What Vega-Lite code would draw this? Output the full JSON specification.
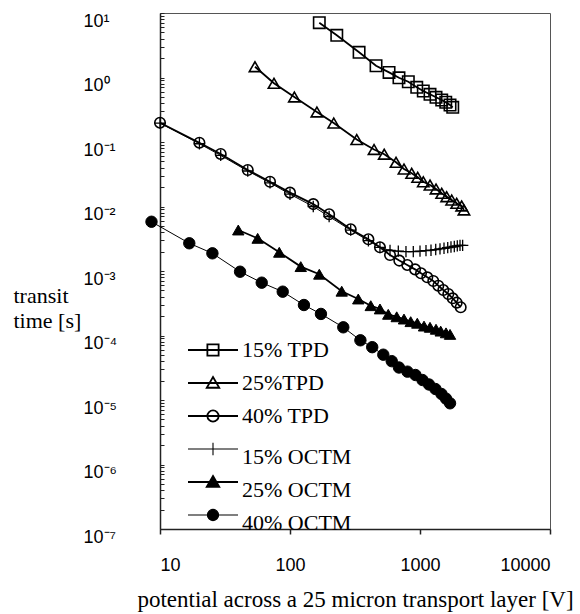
{
  "$schema": "https://vega.github.io/schema/vega-lite/v6.json",
  "width": 390,
  "height": 516,
  "autosize": "none",
  "padding": {"left": 160, "top": 13, "right": 30, "bottom": 85},
  "background": "white",
  "config": {
    "view": {"stroke": "#555", "strokeWidth": 1},
    "font": "Liberation Sans"
  },
  "data": {
    "values": [
      {"series": "15% TPD", "x": 168, "y": 7.08},
      {"series": "15% TPD", "x": 229, "y": 4.51},
      {"series": "15% TPD", "x": 340, "y": 2.46},
      {"series": "15% TPD", "x": 459, "y": 1.52},
      {"series": "15% TPD", "x": 578, "y": 1.2},
      {"series": "15% TPD", "x": 689, "y": 0.99},
      {"series": "15% TPD", "x": 813, "y": 0.86},
      {"series": "15% TPD", "x": 944, "y": 0.705},
      {"series": "15% TPD", "x": 1060, "y": 0.618},
      {"series": "15% TPD", "x": 1194, "y": 0.549},
      {"series": "15% TPD", "x": 1328, "y": 0.493},
      {"series": "15% TPD", "x": 1469, "y": 0.448},
      {"series": "15% TPD", "x": 1578, "y": 0.413},
      {"series": "15% TPD", "x": 1702, "y": 0.375},
      {"series": "15% TPD", "x": 1786, "y": 0.345},

      {"series": "25%TPD", "x": 53.8, "y": 1.47},
      {"series": "25%TPD", "x": 75.3, "y": 0.813},
      {"series": "25%TPD", "x": 108, "y": 0.499},
      {"series": "25%TPD", "x": 161, "y": 0.292},
      {"series": "25%TPD", "x": 217, "y": 0.197},
      {"series": "25%TPD", "x": 326, "y": 0.109},
      {"series": "25%TPD", "x": 443, "y": 0.0766},
      {"series": "25%TPD", "x": 531, "y": 0.0647},
      {"series": "25%TPD", "x": 654, "y": 0.0484},
      {"series": "25%TPD", "x": 753, "y": 0.0381},
      {"series": "25%TPD", "x": 863, "y": 0.0327},
      {"series": "25%TPD", "x": 960, "y": 0.0284},
      {"series": "25%TPD", "x": 1060, "y": 0.0242},
      {"series": "25%TPD", "x": 1194, "y": 0.0215},
      {"series": "25%TPD", "x": 1328, "y": 0.0187},
      {"series": "25%TPD", "x": 1469, "y": 0.016},
      {"series": "25%TPD", "x": 1604, "y": 0.0142},
      {"series": "25%TPD", "x": 1753, "y": 0.0126},
      {"series": "25%TPD", "x": 1915, "y": 0.0112},
      {"series": "25%TPD", "x": 2093, "y": 0.0102},
      {"series": "25%TPD", "x": 2178, "y": 0.00883},

      {"series": "40% TPD", "x": 10, "y": 0.199},
      {"series": "40% TPD", "x": 20.1, "y": 0.0975},
      {"series": "40% TPD", "x": 29.3, "y": 0.0652},
      {"series": "40% TPD", "x": 47.3, "y": 0.0368},
      {"series": "40% TPD", "x": 70.2, "y": 0.0242},
      {"series": "40% TPD", "x": 100, "y": 0.0164},
      {"series": "40% TPD", "x": 151, "y": 0.0109},
      {"series": "40% TPD", "x": 200, "y": 0.00757},
      {"series": "40% TPD", "x": 293, "y": 0.00443},
      {"series": "40% TPD", "x": 401, "y": 0.0031},
      {"series": "40% TPD", "x": 492, "y": 0.00233},
      {"series": "40% TPD", "x": 588, "y": 0.00177},
      {"series": "40% TPD", "x": 693, "y": 0.00145},
      {"series": "40% TPD", "x": 798, "y": 0.00124},
      {"series": "40% TPD", "x": 916, "y": 0.00106},
      {"series": "40% TPD", "x": 1018, "y": 0.000921},
      {"series": "40% TPD", "x": 1138, "y": 0.000798},
      {"series": "40% TPD", "x": 1265, "y": 0.0007},
      {"series": "40% TPD", "x": 1383, "y": 0.000592},
      {"series": "40% TPD", "x": 1511, "y": 0.000507},
      {"series": "40% TPD", "x": 1651, "y": 0.00044},
      {"series": "40% TPD", "x": 1785, "y": 0.000377},
      {"series": "40% TPD", "x": 1916, "y": 0.000323},
      {"series": "40% TPD", "x": 2056, "y": 0.000274},

      {"series": "15% OCTM", "x": 10, "y": 0.196},
      {"series": "15% OCTM", "x": 20.1, "y": 0.094},
      {"series": "15% OCTM", "x": 29.3, "y": 0.062},
      {"series": "15% OCTM", "x": 47.3, "y": 0.0355},
      {"series": "15% OCTM", "x": 70.2, "y": 0.0233},
      {"series": "15% OCTM", "x": 100, "y": 0.0155},
      {"series": "15% OCTM", "x": 151, "y": 0.01},
      {"series": "15% OCTM", "x": 200, "y": 0.007},
      {"series": "15% OCTM", "x": 293, "y": 0.0043},
      {"series": "15% OCTM", "x": 401, "y": 0.00295},
      {"series": "15% OCTM", "x": 492, "y": 0.00232},
      {"series": "15% OCTM", "x": 588, "y": 0.00208},
      {"series": "15% OCTM", "x": 681, "y": 0.00203},
      {"series": "15% OCTM", "x": 780, "y": 0.002},
      {"series": "15% OCTM", "x": 888, "y": 0.002},
      {"series": "15% OCTM", "x": 1000, "y": 0.00203},
      {"series": "15% OCTM", "x": 1112, "y": 0.00207},
      {"series": "15% OCTM", "x": 1215, "y": 0.0021},
      {"series": "15% OCTM", "x": 1321, "y": 0.00215},
      {"series": "15% OCTM", "x": 1425, "y": 0.0022},
      {"series": "15% OCTM", "x": 1530, "y": 0.00225},
      {"series": "15% OCTM", "x": 1634, "y": 0.0023},
      {"series": "15% OCTM", "x": 1731, "y": 0.00235},
      {"series": "15% OCTM", "x": 1836, "y": 0.0024},
      {"series": "15% OCTM", "x": 1936, "y": 0.00245},
      {"series": "15% OCTM", "x": 2031, "y": 0.0025},
      {"series": "15% OCTM", "x": 2128, "y": 0.0025},

      {"series": "25% OCTM", "x": 40, "y": 0.00432},
      {"series": "25% OCTM", "x": 56.4, "y": 0.00321},
      {"series": "25% OCTM", "x": 82.7, "y": 0.00195},
      {"series": "25% OCTM", "x": 121, "y": 0.00117},
      {"series": "25% OCTM", "x": 168, "y": 0.000891},
      {"series": "25% OCTM", "x": 250, "y": 0.000486},
      {"series": "25% OCTM", "x": 335, "y": 0.000368},
      {"series": "25% OCTM", "x": 418, "y": 0.00029},
      {"series": "25% OCTM", "x": 492, "y": 0.000258},
      {"series": "25% OCTM", "x": 570, "y": 0.000213},
      {"series": "25% OCTM", "x": 662, "y": 0.000195},
      {"series": "25% OCTM", "x": 753, "y": 0.00018},
      {"series": "25% OCTM", "x": 848, "y": 0.000164},
      {"series": "25% OCTM", "x": 953, "y": 0.000155},
      {"series": "25% OCTM", "x": 1074, "y": 0.00014},
      {"series": "25% OCTM", "x": 1194, "y": 0.000134},
      {"series": "25% OCTM", "x": 1328, "y": 0.000125},
      {"series": "25% OCTM", "x": 1443, "y": 0.000117},
      {"series": "25% OCTM", "x": 1585, "y": 0.00011},
      {"series": "25% OCTM", "x": 1702, "y": 0.000104},

      {"series": "40% OCTM", "x": 8.6, "y": 0.0058},
      {"series": "40% OCTM", "x": 16.8, "y": 0.00269},
      {"series": "40% OCTM", "x": 25.3, "y": 0.00188},
      {"series": "40% OCTM", "x": 41.3, "y": 0.000975},
      {"series": "40% OCTM", "x": 60.6, "y": 0.000659},
      {"series": "40% OCTM", "x": 87.9, "y": 0.000478},
      {"series": "40% OCTM", "x": 128, "y": 0.000297},
      {"series": "40% OCTM", "x": 173, "y": 0.000216},
      {"series": "40% OCTM", "x": 257, "y": 0.000134},
      {"series": "40% OCTM", "x": 348, "y": 0.0000843},
      {"series": "40% OCTM", "x": 429, "y": 0.0000659},
      {"series": "40% OCTM", "x": 522, "y": 0.0000504},
      {"series": "40% OCTM", "x": 606, "y": 0.00004},
      {"series": "40% OCTM", "x": 689, "y": 0.0000319},
      {"series": "40% OCTM", "x": 801, "y": 0.0000275},
      {"series": "40% OCTM", "x": 923, "y": 0.0000244},
      {"series": "40% OCTM", "x": 1045, "y": 0.0000204},
      {"series": "40% OCTM", "x": 1173, "y": 0.0000174},
      {"series": "40% OCTM", "x": 1315, "y": 0.0000148},
      {"series": "40% OCTM", "x": 1463, "y": 0.0000124},
      {"series": "40% OCTM", "x": 1585, "y": 0.0000105},
      {"series": "40% OCTM", "x": 1702, "y": 0.00000889}
    ]
  },
  "encoding": {
    "x": {
      "field": "x", "type": "quantitative",
      "scale": {"type": "log", "domain": [10, 10000], "nice": false},
      "axis": {
        "values": [10, 100, 1000, 10000],
        "format": "d",
        "grid": false,
        "domainColor": "#222", "domainWidth": 1.5,
        "tickColor": "#222", "tickWidth": 1.5, "tickSize": 5,
        "labelFont": "Liberation Sans", "labelFontSize": 18, "labelColor": "black",
        "labelPadding": 22, "labelBaseline": "top",
        "title": "potential across a 25 micron transport layer [V]",
        "titleFont": "Liberation Serif", "titleFontSize": 23, "titleFontWeight": "normal",
        "titleColor": "black", "titleBaseline": "alphabetic", "titleY": 77
      }
    },
    "y": {
      "field": "y", "type": "quantitative",
      "scale": {"type": "log", "domain": [1e-7, 10], "nice": false},
      "axis": {
        "values": [1e-7, 2e-7, 3e-7, 4e-7, 5e-7, 6e-7, 7e-7, 8e-7, 9e-7,
                   1e-6, 2e-6, 3e-6, 4e-6, 5e-6, 6e-6, 7e-6, 8e-6, 9e-6,
                   1e-5, 2e-5, 3e-5, 4e-5, 5e-5, 6e-5, 7e-5, 8e-5, 9e-5,
                   1e-4, 2e-4, 3e-4, 4e-4, 5e-4, 6e-4, 7e-4, 8e-4, 9e-4,
                   0.001, 0.002, 0.003, 0.004, 0.005, 0.006, 0.007, 0.008, 0.009,
                   0.01, 0.02, 0.03, 0.04, 0.05, 0.06, 0.07, 0.08, 0.09,
                   0.1, 0.2, 0.3, 0.4, 0.5, 0.6, 0.7, 0.8, 0.9,
                   1, 2, 3, 4, 5, 6, 7, 8, 9, 10],
        "labelExpr": "datum.value == 10 ? '10¹' : datum.value == 1 ? '10⁰' : datum.value == 0.1 ? '10⁻¹' : datum.value == 0.01 ? '10⁻²' : datum.value == 0.001 ? '10⁻³' : datum.value == 1e-4 ? '10⁻⁴' : datum.value == 1e-5 ? '10⁻⁵' : datum.value == 1e-6 ? '10⁻⁶' : datum.value == 1e-7 ? '10⁻⁷' : ''",
        "grid": false,
        "domainColor": "#222", "domainWidth": 1.5,
        "tickColor": "#222", "tickWidth": 1, "tickSize": -4,
        "labelFont": "Liberation Sans", "labelFontSize": 18, "labelColor": "black",
        "labelAlign": "left", "labelBaseline": "middle", "labelPadding": 81, "labelOffset": 8,
        "labelOverlap": false, "labelBound": false, "labelFlush": false,
        "title": ["transit", "time [s]"],
        "titleFont": "Liberation Serif", "titleFontSize": 22, "titleFontWeight": "normal",
        "titleColor": "black", "titleAngle": 0, "titleAlign": "left", "titleBaseline": "alphabetic",
        "titleX": -147, "titleY": 289, "titleLineHeight": 25
      }
    }
  },
  "layer": [
    {
      "mark": {"type": "line", "color": "black"},
      "encoding": {
        "detail": {"field": "series"},
        "strokeWidth": {
          "condition": {"test": "datum.series == '15% OCTM' || datum.series == '40% OCTM'", "value": 1},
          "value": 1.8
        }
      }
    },
    {
      "mark": {"type": "point", "filled": true, "opacity": 1},
      "encoding": {
        "stroke": {
          "field": "series", "type": "nominal",
          "scale": {"domain": ["15% TPD", "25%TPD", "40% TPD", "15% OCTM", "25% OCTM", "40% OCTM"],
                    "range": ["black", "black", "black", "black", "black", "black"]},
          "legend": {
            "orient": "none", "legendX": 42, "legendY": 326,
            "title": null, "padding": 0,
            "symbolSize": 625, "labelOffset": 18, "rowPadding": 3, "gridAlign": "all",
            "labelFont": "Liberation Serif", "labelFontSize": 22, "labelColor": "black",
            "labelLimit": 300,
            "encoding": {
              "symbols": {
                "shape": {"value": {"expr": "datum.value == '15% TPD' ? 'M-2,0H2M-0.45,-0.45H0.45V0.45H-0.45Z' : (datum.value == '40% TPD' || datum.value == '40% OCTM') ? 'M-2,0H2M0.45,0A0.45,0.45 0 1,1 -0.45,0A0.45,0.45 0 1,1 0.45,0Z' : datum.value == '15% OCTM' ? 'M-2,0H2M0,-0.5V0.5' : 'M-2,0H2M0,-0.48L0.5,0.38L-0.5,0.38Z'"}},
                "fill": {"value": {"expr": "(datum.value == '25% OCTM' || datum.value == '40% OCTM') ? 'black' : 'transparent'"}},
                "strokeWidth": {"value": {"expr": "(datum.value == '15% OCTM' || datum.value == '40% OCTM') ? 1.1 : 1.8"}},
                "size": {"value": 625},
                "opacity": {"value": 1}
              },
              "labels": {
                "dy": {"value": {"expr": "datum.index >= 3 ? 8 : 0"}}
              }
            }
          }
        },
        "shape": {
          "condition": [
            {"test": "datum.series == '15% TPD'", "value": "square"},
            {"test": "datum.series == '25%TPD' || datum.series == '25% OCTM'", "value": "triangle-up"},
            {"test": "datum.series == '15% OCTM'", "value": "M-1,0H1M0,-1V1"}
          ],
          "value": "circle"
        },
        "fill": {
          "condition": {"test": "datum.series == '25% OCTM' || datum.series == '40% OCTM'", "value": "black"},
          "value": "transparent"
        },
        "size": {
          "condition": {"test": "datum.series == '40% TPD'", "value": 110},
          "value": 130
        },
        "strokeWidth": {
          "condition": [
            {"test": "datum.series == '15% OCTM'", "value": 1.3},
            {"test": "datum.series == '25% OCTM' || datum.series == '40% OCTM'", "value": 1}
          ],
          "value": 1.6
        }
      }
    }
  ]
}
